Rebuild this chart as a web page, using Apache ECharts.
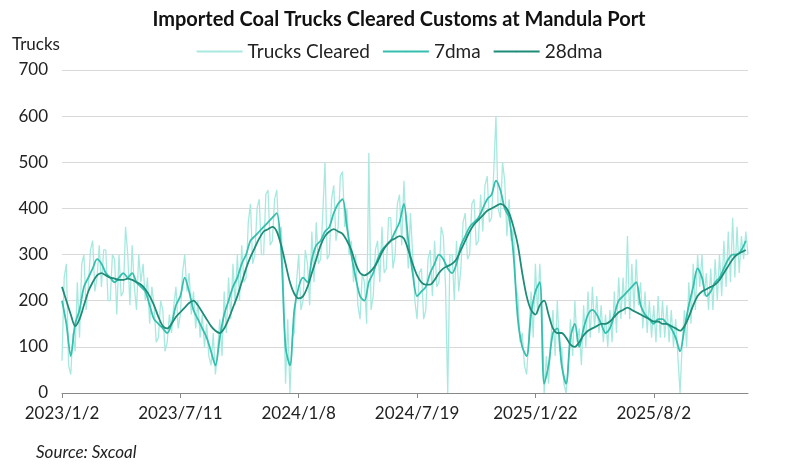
<!DOCTYPE html>
<html>
<head>
<meta charset="utf-8">
<script src="https://cdn.jsdelivr.net/npm/echarts@6/dist/echarts.min.js"></script>
<style>html,body{margin:0;padding:0;background:#fff}#chart{width:798px;height:474px}</style>
</head>
<body>
<div id="chart"></div>
<script>
// x tick labels, shown every 54 points (2 points per week)
var dateLabels = ['2023/1/2', '2023/7/11', '2024/1/8', '2024/7/19', '2025/1/22', '2025/8/2'];

// daily trucks, sampled twice a week
var trucks = [
  70,250, 280,60, 40,130, 90,240, 120,280, 300,180, 230,310, 330,220, 250,320, 230,310,
  310,200, 200,300, 290,170, 300,210, 220,360, 300,190, 320,230, 180,300, 240,280, 200,250,
  150,230, 190,110, 120,200, 180,90, 110,170, 130,190, 230,140, 170,260, 300,220, 260,170,
  220,140, 200,120, 170,100, 150,80, 60,130, 40,90, 160,80, 220,130, 250,160, 280,190,
  300,200, 320,240, 250,370, 410,280, 300,400, 420,300, 300,430, 440,320, 330,420, 440,340,
  360,240, 20,160, 0,120, 130,240, 300,180, 200,310, 280,190, 350,240, 370,280, 290,390,
  500,290, 300,420, 450,330, 360,470, 480,360, 400,300, 330,240, 300,190, 160,260, 240,150,
  520,180, 210,310, 330,240, 360,260, 270,380, 380,270, 300,410, 430,320, 460,360, 270,390,
  300,200, 160,260, 270,160, 180,290, 310,210, 330,230, 240,360, 340,230, 0,300, 300,200,
  330,220, 270,370, 390,290, 300,410, 420,320, 330,430, 350,450, 470,370, 380,480, 600,400,
  380,500, 460,340, 420,330, 360,230, 210,110, 130,60, 40,120, 220,120, 280,170, 280,190,
  0,80, 20,110, 180,80, 200,90, 100,20, 0,60, 160,80, 200,110, 140,60, 190,100,
  220,120, 230,140, 210,130, 190,110, 170,100, 180,110, 220,130, 250,160, 250,170, 340,160,
  280,180, 290,190, 240,140, 220,130, 200,120, 190,110, 210,120, 200,120, 190,110, 180,100,
  160,80, 0,110, 180,100, 240,150, 280,180, 300,230, 300,210, 260,180, 270,180, 290,200,
  300,210, 330,230, 350,240, 380,250, 360,260, 340,290, 350,300
];

// weekly readings of the moving averages
var dma7 = [
  200,150,80,150,180,230,250,270,290,280,
  260,250,240,250,260,250,260,240,230,220,
  190,160,150,140,130,150,190,210,250,220,
  180,160,140,120,90,60,120,170,200,230,
  250,280,300,330,340,350,360,370,380,390,
  310,100,60,180,230,250,240,290,320,330,
  350,360,390,410,420,360,300,250,210,200,
  240,260,290,310,320,330,350,370,410,330,
  260,210,220,230,260,280,300,290,270,260,
  280,320,340,360,370,380,400,420,430,460,
  440,400,380,300,160,100,80,170,220,240,
  20,60,130,140,60,20,120,150,100,140,
  170,180,170,150,130,140,170,200,210,220,
  230,240,190,170,160,150,160,160,150,140,
  120,90,140,190,230,270,250,210,220,240,
  250,270,290,300,300,310,330
];
var dma28 = [
  230,200,170,145,160,190,220,240,255,260,
  255,250,248,245,245,248,245,240,235,225,
  210,190,165,145,140,150,165,175,185,195,
  200,190,175,160,145,135,130,140,160,185,
  210,240,270,295,315,335,350,355,360,350,
  320,280,240,215,205,210,230,260,290,320,
  340,350,355,350,345,330,310,280,260,255,
  260,270,285,305,320,330,335,340,335,310,
  280,255,240,235,235,245,260,270,275,280,
  290,310,330,350,365,375,385,395,400,405,
  410,405,390,360,320,260,210,180,170,190,
  200,170,140,130,130,120,105,100,110,125,
  135,140,145,150,150,155,165,175,180,185,
  180,175,170,165,160,155,155,150,150,145,
  140,135,145,165,190,210,220,225,230,235,
  245,260,275,290,300,305,310
];

// put weekly values on the twice-weekly category axis
function spread(weekly) {
  var out = [];
  for (var i = 0; i < trucks.length; i++) out.push(i % 2 === 0 ? weekly[i / 2] : null);
  return out;
}
var cats = trucks.map(function (v, i) { return i; });

var font = 'Lato, "Noto Sans", sans-serif';
var chart = echarts.init(document.getElementById('chart'));
chart.setOption({
  animation: false,
  textStyle: { fontFamily: font },
  title: {
    text: 'Imported Coal Trucks Cleared Customs at Mandula Port',
    left: 'center', top: 5,
    textStyle: { fontSize: 20, fontWeight: 'bold', color: '#111', fontFamily: font }
  },
  legend: {
    top: 37, left: 'center', itemWidth: 46, itemHeight: 2, itemGap: 12,
    textStyle: { fontSize: 19, color: '#222' },
    data: ['Trucks Cleared', '7dma', '28dma']
  },
  graphic: [
    { type: 'text', left: 12, top: 36, style: { text: 'Trucks', fontSize: 17, fill: '#222', fontFamily: font } },
    { type: 'text', left: 36, top: 444, style: { text: 'Source: Sxcoal', fontSize: 17, fontStyle: 'italic', fill: '#222', fontFamily: font } }
  ],
  grid: { left: 62, right: 50, top: 70, bottom: 81 },
  xAxis: {
    type: 'category', data: cats, boundaryGap: false,
    axisLine: { lineStyle: { color: '#888' } },
    axisTick: { show: true, interval: 53, lineStyle: { color: '#888' } },
    axisLabel: {
      interval: 53, fontSize: 17, color: '#222', margin: 12,
      formatter: function (v, i) { return dateLabels[i / 54] || ''; }
    }
  },
  yAxis: {
    type: 'value', min: 0, max: 700, interval: 100,
    axisLine: { show: false }, axisTick: { show: false },
    axisLabel: { fontSize: 17, color: '#222', margin: 14 },
    splitLine: { lineStyle: { color: '#d9d9d9' } }
  },
  series: [
    { name: 'Trucks Cleared', type: 'line', data: trucks, symbol: 'none',
      lineStyle: { width: 1.3, color: '#a8e9df' }, itemStyle: { color: '#a8e9df' } },
    { name: '7dma', type: 'line', data: spread(dma7), connectNulls: true, symbol: 'none', smooth: 0.3,
      lineStyle: { width: 1.8, color: '#35bfae' }, itemStyle: { color: '#35bfae' } },
    { name: '28dma', type: 'line', data: spread(dma28), connectNulls: true, symbol: 'none', smooth: 0.3,
      lineStyle: { width: 1.8, color: '#1e8c78' }, itemStyle: { color: '#1e8c78' } }
  ]
});
</script>
</body>
</html>
